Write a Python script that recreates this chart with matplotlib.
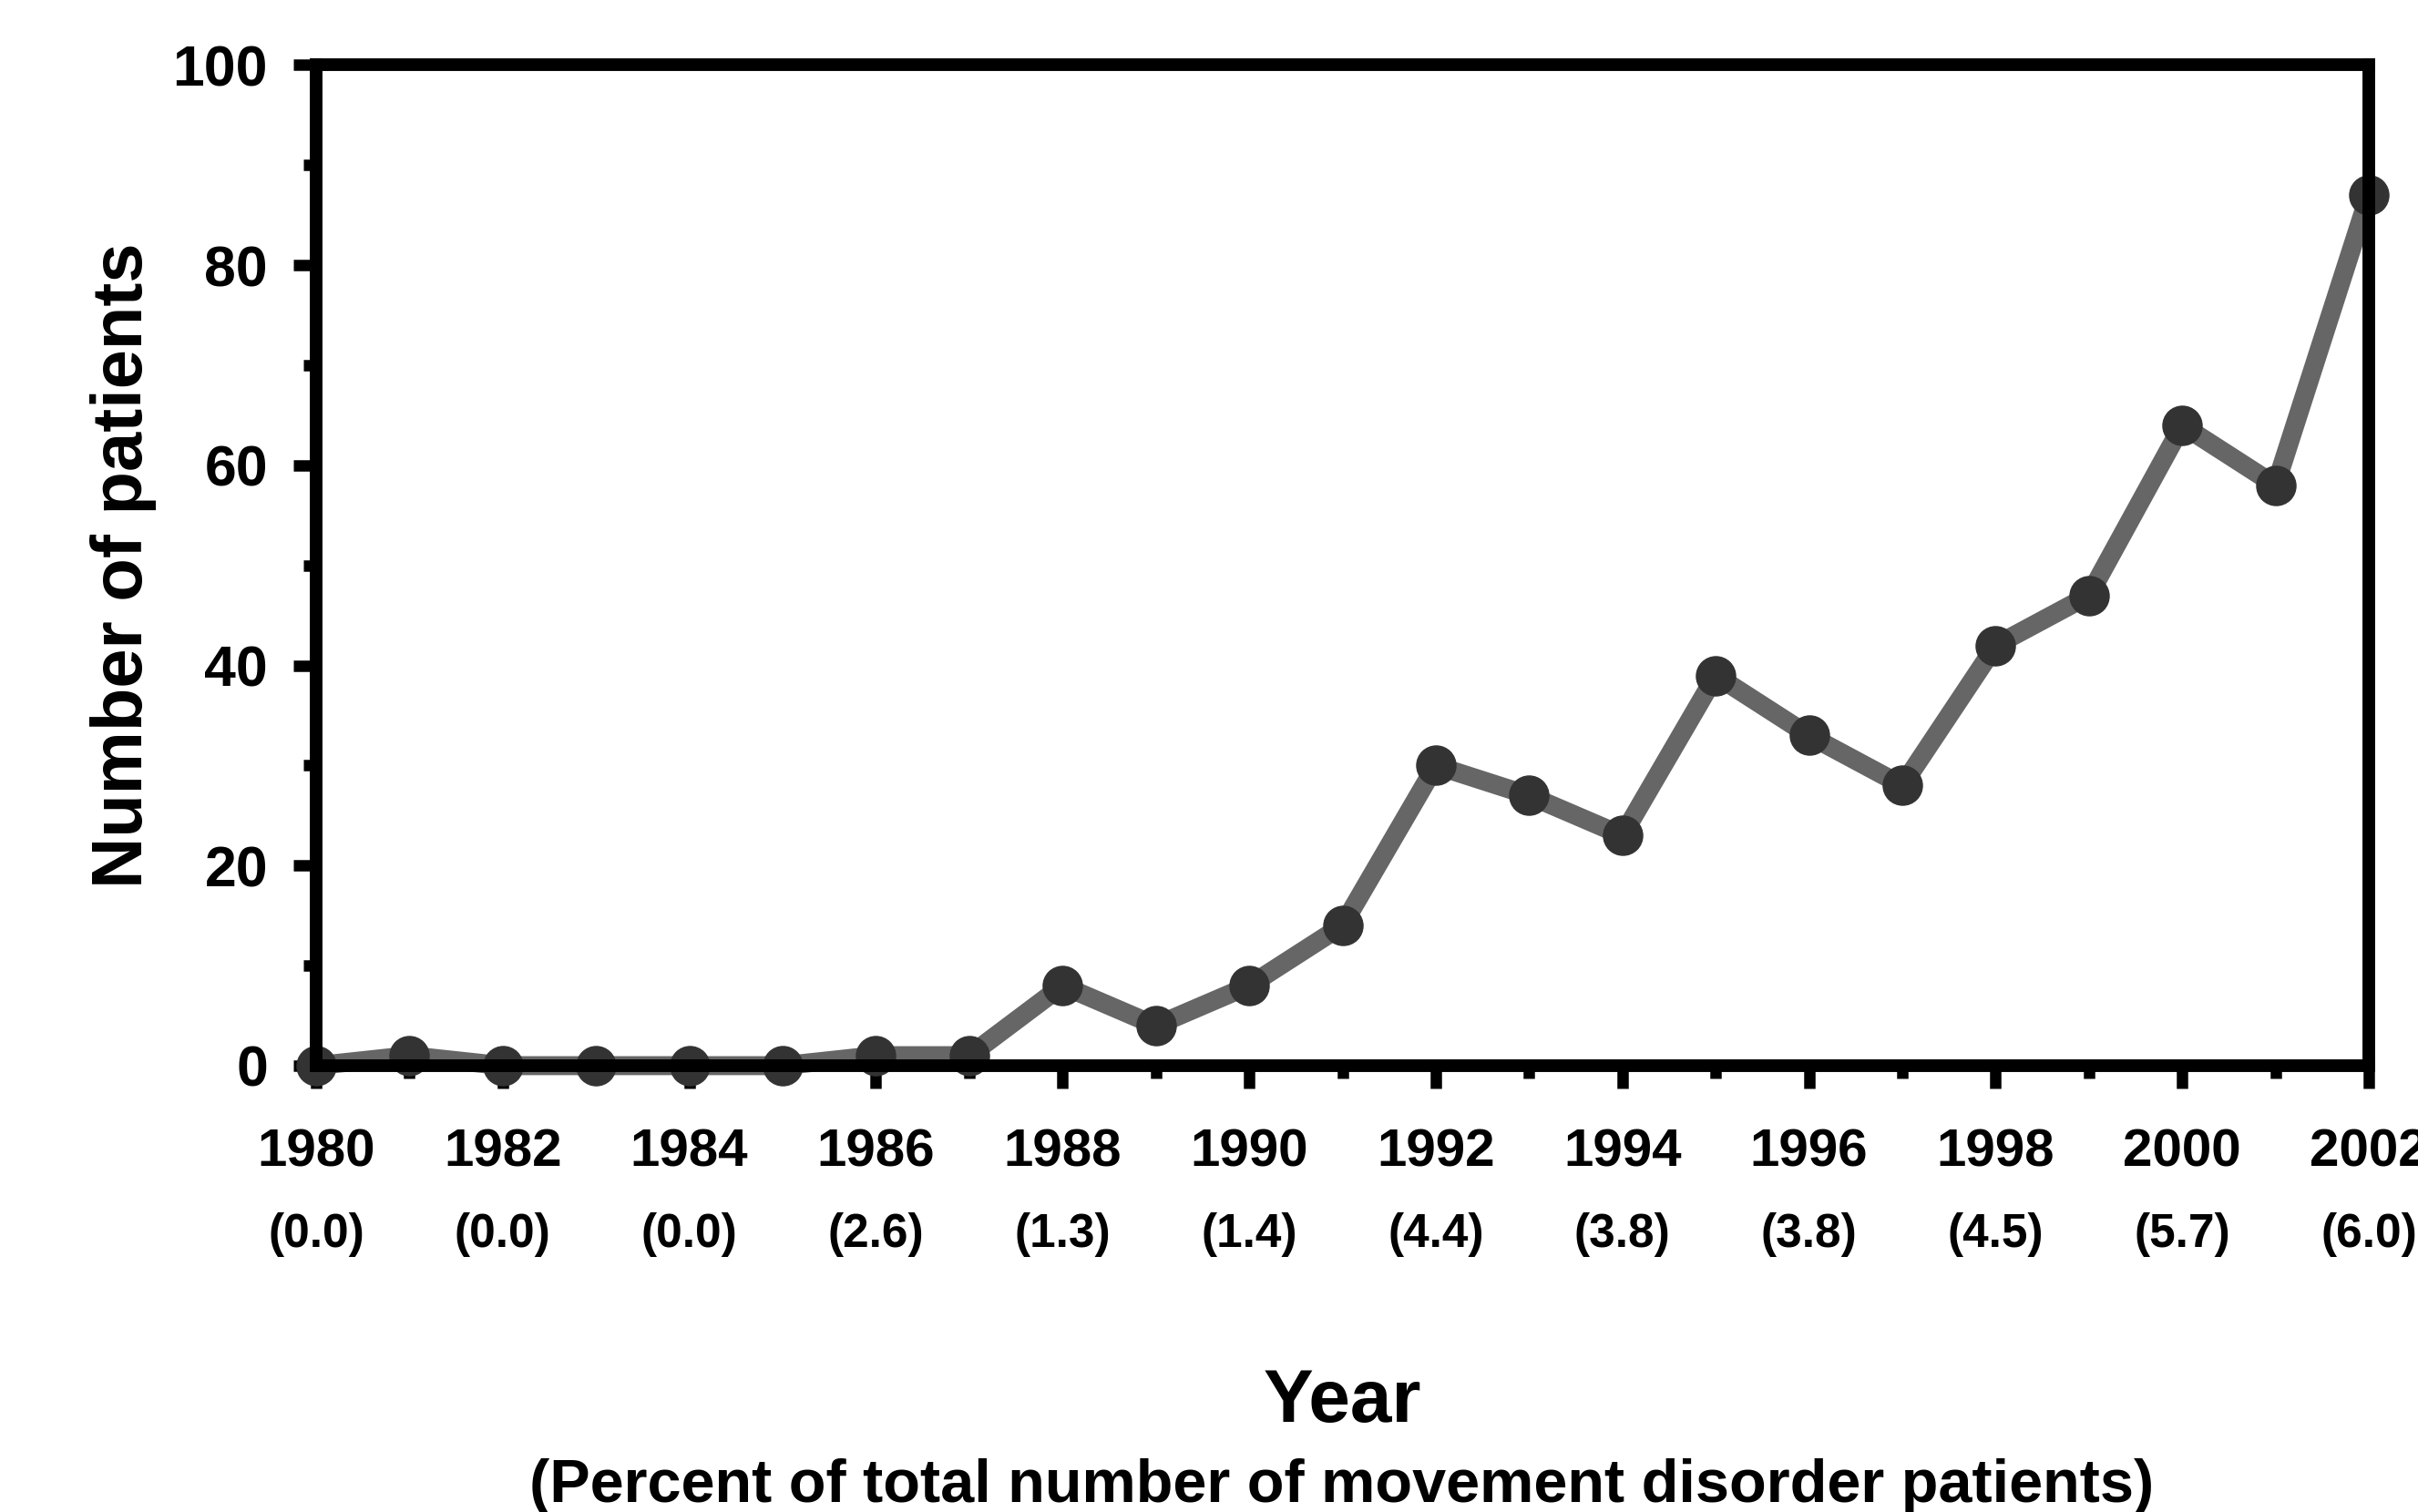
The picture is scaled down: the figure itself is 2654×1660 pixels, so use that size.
import matplotlib.pyplot as plt
from matplotlib.ticker import MultipleLocator

plt.rcParams['font.family'] = ['Liberation Sans', 'DejaVu Sans']
plt.rcParams['font.weight'] = 'bold'

# patients per year
years = list(range(1980, 2003))
patients = [0, 1, 0, 0, 0, 0, 1, 1, 8, 4, 8, 14, 30, 27, 23, 39, 33, 28, 42, 47, 64, 58, 87]

# percent of all movement disorder patients, every second year
pct_years = [1980, 1982, 1984, 1986, 1988, 1990, 1992, 1994, 1996, 1998, 2000, 2002]
pct_labels = ["(0.0)", "(0.0)", "(0.0)", "(2.6)", "(1.3)", "(1.4)",
              "(4.4)", "(3.8)", "(3.8)", "(4.5)", "(5.7)", "(6.0)"]

fig = plt.figure(figsize=(26.54, 16.6), dpi=100)
ax = fig.add_axes([0.1307, 0.2952, 0.849, 0.6618])

ax.plot(years, patients, color="#666666", linewidth=15, marker="o",
        markersize=31, markerfacecolor="#333333", markeredgecolor="#333333",
        clip_on=False, zorder=2)

ax.set_xlim(1980, 2002)
ax.set_ylim(0, 100)

ax.xaxis.set_major_locator(MultipleLocator(2))
ax.xaxis.set_minor_locator(MultipleLocator(1))
ax.yaxis.set_major_locator(MultipleLocator(20))
ax.yaxis.set_minor_locator(MultipleLocator(10))

for s in ax.spines.values():
    s.set_linewidth(10)
    s.set_color("black")

ax.tick_params(axis="both", which="major", length=18, width=9)
ax.tick_params(axis="both", which="minor", length=10, width=9)
ax.tick_params(axis="x", which="major", pad=31, labelsize=42)
ax.tick_params(axis="y", which="major", pad=20, labelsize=45)
ax.tick_params(top=False, right=False, which="both")

for lab in ax.get_xticklabels() + ax.get_yticklabels():
    lab.set_fontweight("bold")

for yr, txt in zip(pct_years, pct_labels):
    ax.text(yr, -0.169, txt, transform=ax.get_xaxis_transform(),
            ha="center", va="center", fontsize=37, fontweight="bold")

fig.text(0.555, 0.072, "Year", ha="center", va="center",
         fontsize=59, fontweight="bold")
fig.text(0.555, 0.017, "(Percent of total number of movement disorder patients)",
         ha="center", va="center", fontsize=48, fontweight="bold")
fig.text(0.051, 0.626, "Number of patients", ha="center", va="center",
         rotation=90, fontsize=56, fontweight="bold")

fig.savefig("out.png", dpi=100, facecolor="white")
